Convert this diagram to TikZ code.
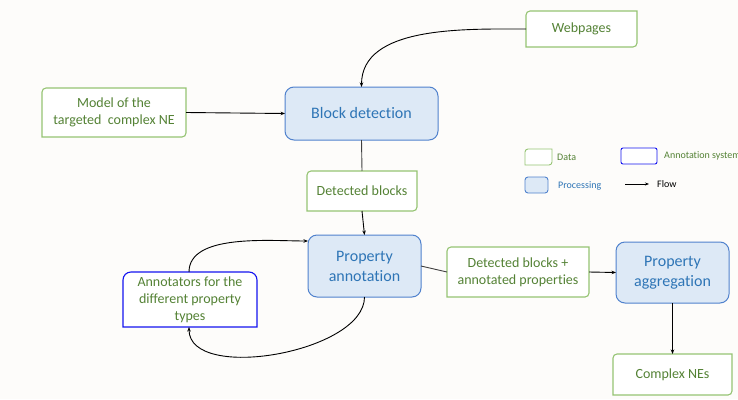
\documentclass[tikz,border=0pt]{standalone}
\usepackage{fontspec}
\setmainfont{Carlito}[Ligatures={NoCommon}]
\usetikzlibrary{arrows.meta}
\definecolor{bgc}{RGB}{253,252,250}
\definecolor{dataline}{RGB}{150,196,115}
\definecolor{datatext}{RGB}{84,130,53}
\definecolor{procfill}{RGB}{221,233,246}
\definecolor{procline}{RGB}{80,130,205}
\definecolor{proctext}{RGB}{46,117,182}
\definecolor{annline}{RGB}{20,20,240}
\tikzset{
  txt/.style={align=center, inner sep=0pt, outer sep=0pt},
  datanode/.style={txt, text=datatext, font=\fontsize{14}{17}\selectfont},
  procnode/.style={txt, text=proctext, draw=procline, fill=procfill, line width=1pt, rounded corners=9pt, font=\fontsize{16}{20}\selectfont},
  databorder/.style={draw=dataline, line width=1.1pt, fill=white},
  annborder/.style={draw=annline, line width=1.1pt, fill=white},
  flow/.style={line width=0.9pt, -{Stealth[length=4.5pt,width=3.5pt]}},
  plainflow/.style={line width=0.9pt, draw=black!75},
  legtext/.style={anchor=west, inner sep=0pt, font=\fontsize{10}{12}\selectfont},
}
\newcommand{\datashape}[4]{% cx cy w h
  \draw[databorder] (#1-#3/2,#2+#4/2) -- (#1-#3/2,#2-#4/2+4) arc[start angle=180,end angle=90,radius=4pt]
    -- (#1+#3/2,#2-#4/2) -- (#1+#3/2,#2+#4/2-4) arc[start angle=0,end angle=-90,radius=4pt] -- cycle;}
\begin{document}
\begin{tikzpicture}[x=1pt,y=-1pt]
\useasboundingbox (0,0) rectangle (738,399);
\fill[bgc] (0,0) rectangle (738,399);

% data shapes
\datashape{581.5}{29}{111}{36}
\datashape{114}{112.5}{144}{49}
\datashape{362}{191}{110}{40}
\datashape{518}{272}{142}{50}
\datashape{672.5}{374.5}{119}{41}
% annotators shape
\draw[annborder] (123,327) -- (123,280) arc[start angle=180,end angle=90,radius=8pt]
  -- (249,272) arc[start angle=90,end angle=0,radius=8pt] -- (257,327) -- cycle;

% nodes (invisible size frames)
\node[datanode, minimum width=111pt, minimum height=36pt] (web) at (581.5,29) {Webpages};
\node[datanode, minimum width=144pt, minimum height=49pt] (model) at (114,112.5) {Model of the\\targeted\ \ complex NE};
\node[datanode, minimum width=110pt, minimum height=40pt] (db) at (362,191) {Detected blocks};
\node[datanode, minimum width=142pt, minimum height=50pt] (dbp) at (518,272) {Detected blocks +\\annotated properties};
\node[datanode, minimum width=119pt, minimum height=41pt] (cne) at (672.5,374.5) {Complex NEs};
\node[datanode, minimum width=134pt, minimum height=55pt, font=\fontsize{14}{17}\selectfont] (ann) at (190,299.5) {Annotators for the\\different property\\types};

\node[procnode, minimum width=153pt, minimum height=53pt] (bd) at (361.5,113.5) {Block detection};
\node[procnode, minimum width=113pt, minimum height=62pt] (pa) at (364.5,266) {Property\\annotation};
\node[procnode, minimum width=113pt, minimum height=61pt] (pagg) at (672.5,272.5) {Property\\aggregation};

% connectors
\draw[flow] (web.west) to[out=180,in=90,looseness=0.9] (bd.north);
\draw[flow] (model.east) -- (bd.west);
\draw[plainflow] (bd.south) -- (db.north);
\draw[flow] (db.south) -- (pa.north);
\draw[flow] ([xshift=-1pt]ann.north) to[out=90,in=180,looseness=0.8] ([yshift=-6pt]pa.north west);
\draw[flow] (pa.south) to[out=-90,in=-90,looseness=0.8] ([xshift=-1pt]ann.south);
\draw[plainflow] (pa.east) -- (dbp.west);
\draw[flow] (dbp.east) -- (pagg.west);
\draw[flow] (pagg.south) -- (cne.north);

% legend
\draw[databorder, line width=0.9pt] (525,165) -- (525,152) arc[start angle=180,end angle=90,radius=3pt] -- (552,149) -- (552,162) arc[start angle=0,end angle=-90,radius=3pt] -- cycle;
\node[legtext, text=datatext] (ldata) at (557,157) {Data};
\draw[annborder, line width=0.9pt, rounded corners=2pt] (621,148) rectangle (657,164);
\node[legtext, text=datatext] (lann) at (664,155.5) {Annotation system};
\draw[procline, fill=procfill, line width=0.9pt, rounded corners=3pt] (525,177) rectangle (548,193);
\node[legtext, text=proctext] (lproc) at (558,186) {Processing};
\coordinate (fa) at (625,184);
\coordinate (fb) at (649,184);
\draw[line width=0.7pt, -{Stealth[length=4pt,width=3pt]}] (fa) -- (fb);
\node[legtext, text=black] (lflow) at (657,184) {Flow};
\end{tikzpicture}
\end{document}
